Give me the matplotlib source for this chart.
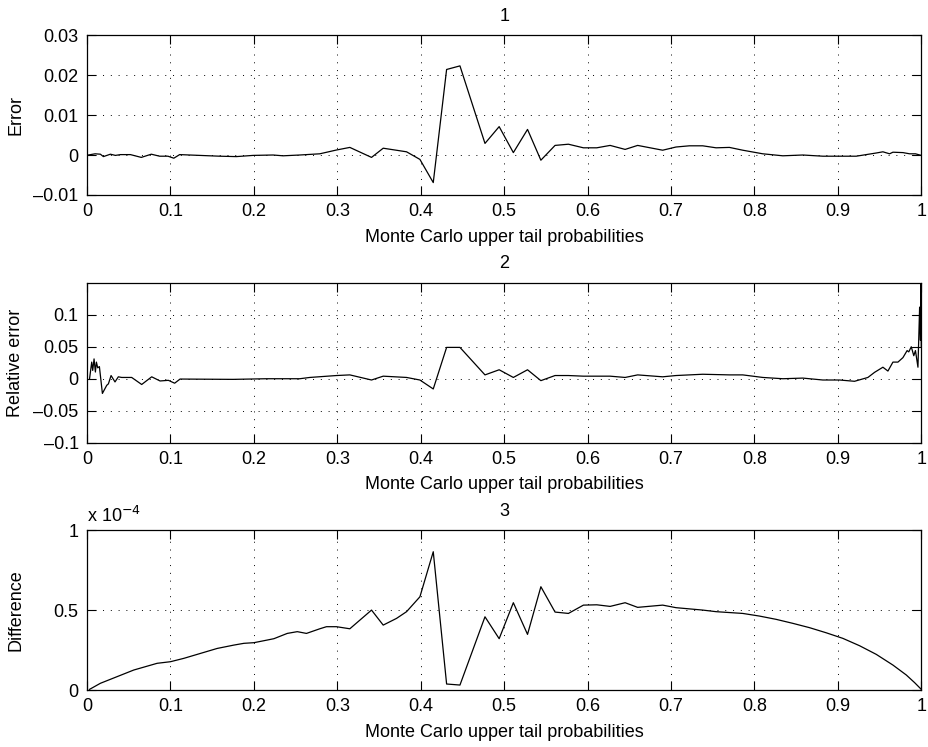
import matplotlib
matplotlib.use("Agg")
import matplotlib.pyplot as plt
from matplotlib.ticker import FuncFormatter

# panel 1: error
err_x = [0.0, 0.0016, 0.0096, 0.016, 0.0196, 0.028, 0.034, 0.040, 0.052, 0.065, 0.077, 0.087,
         0.097, 0.104, 0.111, 0.135, 0.159, 0.179, 0.199, 0.223, 0.235, 0.255, 0.279, 0.299,
         0.315, 0.341, 0.355, 0.383, 0.399, 0.415, 0.431, 0.447, 0.477, 0.494, 0.511, 0.528,
         0.544, 0.561, 0.577, 0.595, 0.611, 0.627, 0.645, 0.660, 0.690, 0.706, 0.722, 0.738,
         0.754, 0.770, 0.786, 0.810, 0.834, 0.858, 0.882, 0.902, 0.922, 0.946, 0.954, 0.962,
         0.966, 0.978, 0.986, 0.993, 1.0]
err_y = [0.0, 0.0, 0.0003, 0.0002, -0.0004, 0.0002, -0.0001, 0.0001, 0.0001, -0.0006, 0.0002,
         -0.0003, -0.0003, -0.0008, 0.0001, -0.0001, -0.0003, -0.0004, -0.0001, 0.0, -0.0002,
         0.0, 0.0003, 0.00125, 0.0019, -0.0006, 0.0017, 0.0008, -0.0011, -0.0069, 0.0214,
         0.0223, 0.0029, 0.0071, 0.0006, 0.0064, -0.0013, 0.0024, 0.0027, 0.0018, 0.0018,
         0.0024, 0.0014, 0.0024, 0.0012, 0.0020, 0.0023, 0.0023, 0.0018, 0.0019, 0.0012,
         0.0003, -0.0002, 0.0, -0.0003, -0.0003, -0.0003, 0.0005, 0.0008, 0.0003, 0.0007,
         0.0006, 0.0003, 0.0003, -0.0001]

# panel 2: relative error
rel_x = [0.003, 0.0056, 0.0068, 0.0084, 0.0100, 0.0112, 0.0128, 0.0148, 0.0184, 0.0236, 0.0256,
         0.0288, 0.0335, 0.0375, 0.0415, 0.0535, 0.0655, 0.0775, 0.0875, 0.0975, 0.105,
         0.1115, 0.175, 0.215, 0.255, 0.267, 0.299, 0.315, 0.341, 0.355, 0.383, 0.399, 0.415,
         0.431, 0.447, 0.477, 0.494, 0.511, 0.528, 0.544, 0.561, 0.577, 0.595, 0.611, 0.627,
         0.645, 0.660, 0.690, 0.706, 0.738, 0.770, 0.786, 0.810, 0.834, 0.858, 0.882, 0.902,
         0.920, 0.936, 0.944, 0.954, 0.960, 0.966, 0.972, 0.978, 0.983, 0.985, 0.988, 0.991,
         0.993, 0.996, 0.998, 0.999, 0.9995, 1.0]
rel_y = [0.0, 0.026, 0.013, 0.031, 0.0105, 0.026, 0.017, 0.019, -0.023, -0.0103, -0.008, 0.005,
         -0.005, 0.003, 0.002, 0.002, -0.009, 0.003, -0.0035, -0.0025, -0.007, -0.0005, -0.001,
         0.0, 0.0, 0.002, 0.005, 0.006, -0.002, 0.004, 0.002, -0.002, -0.016, 0.049, 0.049,
         0.006, 0.014, 0.002, 0.014, -0.003, 0.005, 0.005, 0.004, 0.004, 0.004, 0.002, 0.006,
         0.003, 0.005, 0.007, 0.006, 0.006, 0.002, 0.0, 0.001, -0.002, -0.002, -0.004, 0.002,
         0.010, 0.018, 0.012, 0.026, 0.026, 0.033, 0.044, 0.042, 0.050, 0.036, 0.044, 0.018,
         0.112, 0.060, 0.148, 0.05]

# panel 3: difference (units of 1e-4)
diff_x = [0.003, 0.016, 0.056, 0.084, 0.1, 0.116, 0.156, 0.176, 0.188, 0.2, 0.216, 0.224, 0.240,
          0.252, 0.263, 0.279, 0.287, 0.299, 0.315, 0.341, 0.355, 0.371, 0.383, 0.399, 0.415,
          0.431, 0.447, 0.477, 0.494, 0.511, 0.528, 0.544, 0.561, 0.577, 0.595, 0.611, 0.627,
          0.645, 0.660, 0.690, 0.706, 0.738, 0.754, 0.786, 0.806, 0.826, 0.846, 0.866, 0.886,
          0.906, 0.926, 0.946, 0.966, 0.982, 0.992, 1.0]
diff_y = [0.004, 0.042, 0.125, 0.167, 0.177, 0.198, 0.26, 0.281, 0.292, 0.296, 0.3125, 0.321,
          0.354, 0.365, 0.354, 0.383, 0.396, 0.396, 0.383, 0.5, 0.406, 0.448, 0.49, 0.583, 0.865,
          0.0375, 0.031, 0.458, 0.321, 0.546, 0.348, 0.646, 0.4875, 0.479, 0.531, 0.533, 0.523,
          0.546, 0.517, 0.531, 0.515, 0.5, 0.49, 0.479, 0.4625, 0.442, 0.417, 0.39, 0.358,
          0.323, 0.277, 0.223, 0.156, 0.094, 0.046, 0.004]

titles = ["1", "2", "3"]
ylabels = ["Error", "Relative error", "Difference"]
xlabel = "Monte Carlo upper tail probabilities"

plt.rcParams["font.family"] = ["Liberation Sans", "DejaVu Sans"]
plt.rcParams["font.size"] = 13

fig = plt.figure(figsize=(9.29, 7.47), dpi=100)
left, width, height = 0.0937, 0.898, 0.214
bottoms = [0.739, 0.4074, 0.0763]
series = [(err_x, err_y), (rel_x, rel_y), (diff_x, diff_y)]
ylims = [(-0.01, 0.03), (-0.1, 0.15), (0, 1)]
yticks = [[-0.01, 0, 0.01, 0.02, 0.03], [-0.1, -0.05, 0, 0.05, 0.1], [0, 0.5, 1]]
fmt = FuncFormatter(lambda v, p: ("%g" % v).replace("-", "\u2013") if abs(v) > 1e-12 else "0")

for i in range(3):
    ax = fig.add_axes([left, bottoms[i], width, height])
    xs, ys = series[i]
    ax.plot(xs, ys, color="black", linewidth=0.9)
    ax.set_xlim(0, 1)
    ax.set_ylim(*ylims[i])
    ax.set_xticks([k / 10 for k in range(11)])
    ax.set_yticks(yticks[i])
    ax.xaxis.set_major_formatter(fmt)
    ax.yaxis.set_major_formatter(fmt)
    ax.tick_params(direction="in", length=6.5, width=0.8, top=True, right=True, pad=6)
    ax.grid(True, color="black", linestyle=(0, (1, 7)), linewidth=0.7)
    for s in ax.spines.values():
        s.set_linewidth(0.9)
    ax.set_title(titles[i], fontsize=13, pad=10.5)
    ax.set_xlabel(xlabel, labelpad=6)
    ax.set_ylabel(ylabels[i])
    ax.yaxis.set_label_coords(-0.0755, 0.5)

ax.text(0.0, 1.025, r"x 10$^{-4}$", transform=ax.transAxes, fontsize=13, va="bottom", ha="left")

plt.savefig("out.png", dpi=100)
